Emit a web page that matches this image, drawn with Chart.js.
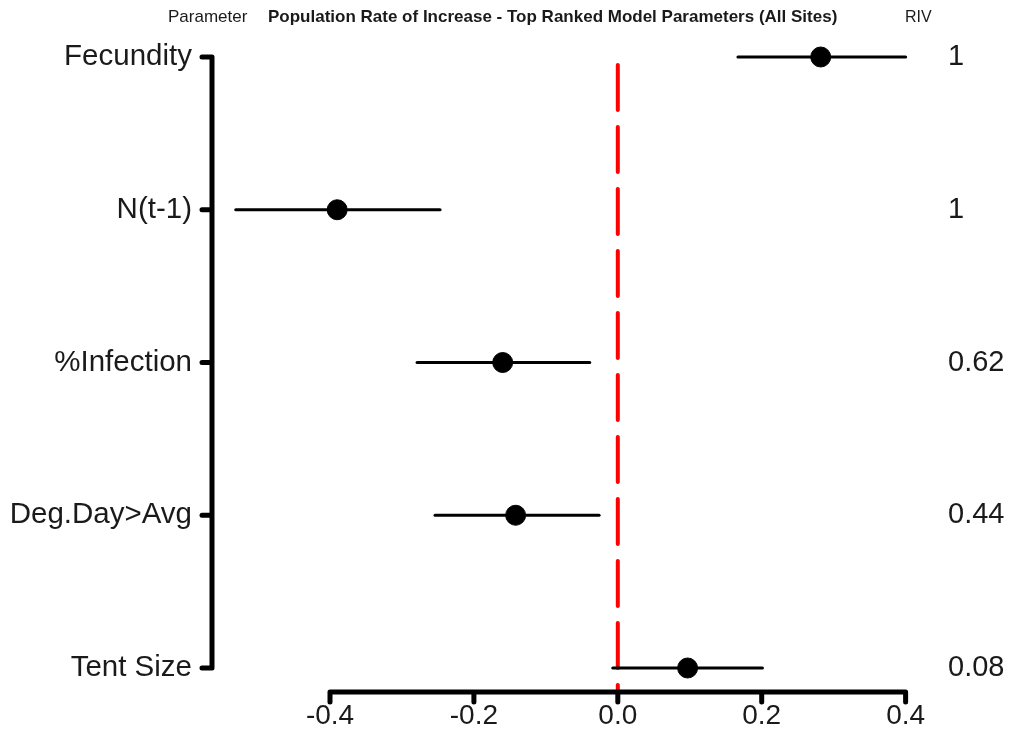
<!DOCTYPE html>
<html>
<head>
<meta charset="utf-8">
<script src="https://cdn.jsdelivr.net/npm/chart.js@4.4.1/dist/chart.umd.min.js"></script>
<style>
  html, body { margin: 0; padding: 0; background: #fff; }
  #wrap { width: 1010px; height: 730px; }
</style>
</head>
<body>
<div id="wrap"><canvas id="myChart" width="1010" height="730"></canvas></div>
<script>
// parameters, top to bottom
const params = ["Fecundity", "N(t-1)", "%Infection", "Deg.Day>Avg", "Tent Size"];
const estimates = [0.282, -0.390, -0.160, -0.142, 0.097];
const lower = [0.167, -0.531, -0.279, -0.254, -0.007];
const upper = [0.400, -0.247, -0.039, -0.026, 0.201];
const rivLabels = ["1", "1", "0.62", "0.44", "0.08"];
const xTicks = [-0.4, -0.2, 0.0, 0.2, 0.4];

const fontFam = "'Liberation Sans', Arial, sans-serif";

// one line dataset per error bar
let datasets = params.map(function (p, i) {
  return {
    type: "line",
    data: [{ x: lower[i], y: p }, { x: upper[i], y: p }],
    borderColor: "#000",
    borderWidth: 3,
    borderCapStyle: "round",
    pointRadius: 0,
    clip: false,
  };
});
datasets.push({
  type: "scatter",
  data: params.map(function (p, i) { return { x: estimates[i], y: p }; }),
  backgroundColor: "#000",
  borderColor: "#000",
  pointRadius: 10,
  pointHoverRadius: 10,
  clip: false,
});

const axesPlugin = {
  id: "axesPlugin",
  beforeDatasetsDraw(chart) {
    const ctx = chart.ctx;
    const x = chart.scales.x;
    const x0 = x.getPixelForValue(0);
    // red dashed zero line
    ctx.save();
    ctx.strokeStyle = "#ff0000";
    ctx.lineWidth = 4;
    ctx.lineCap = "round";
    ctx.setLineDash([45, 17]);
    ctx.beginPath();
    ctx.moveTo(x0, 65);
    ctx.lineTo(x0, 690);
    ctx.stroke();
    ctx.restore();
  },
  afterDraw(chart) {
    const ctx = chart.ctx;
    const x = chart.scales.x, y = chart.scales.y;
    ctx.save();
    ctx.strokeStyle = "#000";
    ctx.lineWidth = 5;
    ctx.lineCap = "round";
    // y axis line
    const ax = chart.chartArea.left;
    const yTop = y.getPixelForValue(0), yBot = y.getPixelForValue(params.length - 1);
    ctx.beginPath();
    ctx.moveTo(ax, yTop);
    ctx.lineTo(ax, yBot);
    params.forEach(function (p, i) {
      const py = y.getPixelForValue(i);
      ctx.moveTo(ax, py);
      ctx.lineTo(ax - 10, py);
    });
    ctx.stroke();
    // x axis line
    const ay = chart.chartArea.bottom + 24;
    ctx.beginPath();
    ctx.moveTo(x.getPixelForValue(xTicks[0]), ay);
    ctx.lineTo(x.getPixelForValue(xTicks[xTicks.length - 1]), ay);
    xTicks.forEach(function (t) {
      const px = x.getPixelForValue(t);
      ctx.moveTo(px, ay);
      ctx.lineTo(px, ay + 10);
    });
    ctx.stroke();
    // header texts
    ctx.fillStyle = "#1a1a1a";
    ctx.textBaseline = "alphabetic";
    ctx.textAlign = "left";
    ctx.font = "17px " + fontFam;
    ctx.fillText("Parameter", 168, 22, 81);
    ctx.font = "bold 17px " + fontFam;
    ctx.fillText("Population Rate of Increase - Top Ranked Model Parameters (All Sites)", 268, 22, 608);
    ctx.font = "16px " + fontFam;
    ctx.fillText("RIV", 905, 22, 27);
    ctx.restore();
  },
};

let mychart = document.getElementById("myChart").getContext("2d");
let fp = new Chart(mychart, {
  type: "scatter",
  data: { datasets: datasets },
  plugins: [axesPlugin],
  options: {
    responsive: false,
    animation: false,
    layout: { padding: { top: 57, right: 0, bottom: 0, left: 0 } },
    plugins: {
      legend: { display: false },
      tooltip: { enabled: false },
    },
    scales: {
      x: {
        type: "linear",
        position: "bottom",
        min: -0.564,
        max: 0.42,
        afterBuildTicks: function (scale) {
          scale.ticks = xTicks.map(function (v) { return { value: v }; });
        },
        afterFit: function (scale) { scale.height = 62; },
        grid: { display: false, drawTicks: false },
        border: { display: false },
        ticks: {
          padding: 31,
          color: "#1a1a1a",
          font: { size: 28, family: fontFam },
          maxRotation: 0,
          callback: function (v) { return v.toFixed(1); },
        },
      },
      y: {
        type: "category",
        labels: params,
        offset: false,
        position: "left",
        afterFit: function (scale) { scale.width = 212; },
        grid: { display: false, drawTicks: false },
        border: { display: false },
        ticks: {
          padding: 20,
          color: "#1a1a1a",
          font: { size: 29.5, family: fontFam },
        },
      },
      y2: {
        type: "category",
        labels: rivLabels,
        offset: false,
        position: "right",
        afterFit: function (scale) { scale.width = 90; },
        grid: { display: false, drawTicks: false },
        border: { display: false },
        ticks: {
          padding: 28,
          color: "#1a1a1a",
          font: { size: 29, family: fontFam },
        },
      },
    },
  },
});
</script>
</body>
</html>
